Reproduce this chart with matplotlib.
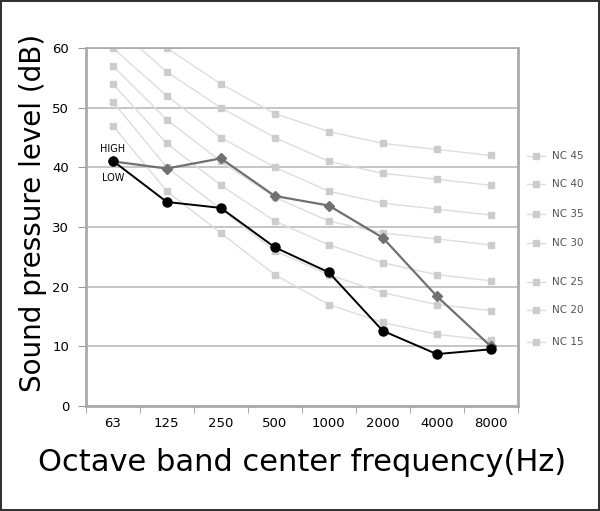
import numpy as np
import matplotlib.pyplot as plt
from matplotlib.lines import Line2D

# Oktavbandmittenfrequenzen
freqs = ['63', '125', '250', '500', '1000', '2000', '4000', '8000']

# NC-Kurven (Schalldruckpegel in dB)
nc_names = ['NC 15', 'NC 20', 'NC 25', 'NC 30', 'NC 35', 'NC 40', 'NC 45']
nc15 = [47, 36, 29, 22, 17, 14, 12, 11]
nc20 = [51, 40, 33, 26, 22, 19, 17, 16]
nc25 = [54, 44, 37, 31, 27, 24, 22, 21]
nc30 = [57, 48, 41, 35, 31, 29, 28, 27]
nc35 = [60, 52, 45, 40, 36, 34, 33, 32]
nc40 = [64, 56, 50, 45, 41, 39, 38, 37]
nc45 = [67, 60, 54, 49, 46, 44, 43, 42]
nc_curves = [nc15, nc20, nc25, nc30, nc35, nc40, nc45]

# Messwerte
high = [41.0, 39.8, 41.5, 35.2, 33.6, 28.2, 18.4, 10.0]
low = [41.1, 34.2, 33.2, 26.6, 22.4, 12.6, 8.7, 9.5]

x = np.arange(len(freqs))

fig = plt.figure(figsize=(6, 5.11), dpi=100)
fig.patch.set_edgecolor('#333333')
fig.patch.set_linewidth(1.5)
ax = fig.add_axes([0.143, 0.2055, 0.72, 0.7005])

for curve in nc_curves:
    ax.plot(x, curve, color='#dddddd', lw=1.0, marker='s', ms=5,
            mfc='#cccccc', mec='#cccccc', zorder=2, clip_on=True)

ax.plot(x, high, color='#707070', lw=1.6, marker='D', ms=5.5,
        mfc='#707070', mec='#707070', zorder=4)
ax.plot(x, low, color='black', lw=1.4, marker='o', ms=6.5, zorder=5)

ax.text(x[0], high[0] + 1.3, 'HIGH', fontsize=7, ha='center', va='bottom')
ax.text(x[0], low[0] - 2.0, 'LOW', fontsize=7, ha='center', va='top')

ax.set_xlim(-0.5, 7.5)
ax.set_ylim(0, 60)
ax.set_yticks(np.arange(0, 61, 10))
ax.set_xticks(x)
ax.set_xticklabels(freqs)
ax.set_xticks(np.arange(-0.5, 8, 1), minor=True)
ax.tick_params(axis='x', which='major', length=0, pad=8, labelsize=9.5)
ax.tick_params(axis='x', which='minor', length=5, color='#999999', direction='out')
ax.tick_params(axis='y', length=6, color='#999999', labelsize=9.5, pad=6)
ax.yaxis.grid(True, color='#bbbbbb', lw=1.2)
ax.set_axisbelow(True)
for s in ax.spines.values():
    s.set_color('#aaaaaa')
    s.set_linewidth(2)
ax.spines['top'].set_linewidth(1.2)

ax.set_ylabel('Sound pressure level (dB)', fontsize=20)
ax.yaxis.set_label_coords(-0.09, 0.54)
ax.set_xlabel('Octave band center frequency(Hz)', fontsize=22, labelpad=13)

# Beschriftung der NC-Kurven rechts
label_y = [342, 310, 282, 243, 214, 184, 156]
for name, py in zip(nc_names, label_y):
    fy = 1 - py / 511
    fig.add_artist(Line2D([527 / 600, 545 / 600], [fy, fy], color='#dddddd', lw=1.0))
    fig.add_artist(Line2D([536 / 600], [fy], marker='s', ms=5, color='#cccccc'))
    fig.text(552 / 600, fy, name, fontsize=7.5, color='#555555', va='center')

fig.savefig('out.png', dpi=100, edgecolor=fig.get_edgecolor())
